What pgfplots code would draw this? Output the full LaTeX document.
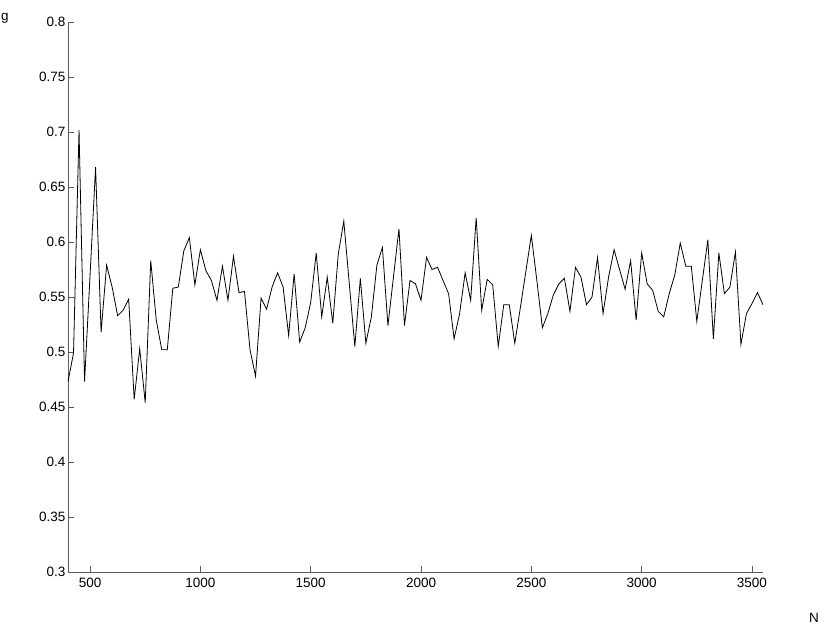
\documentclass[border=0pt]{standalone}
\usepackage{fontspec}
\setmainfont{Liberation Sans}
\usepackage{pgfplots}
\pgfplotsset{compat=1.18}
\usepackage{pgfplotstable}

\pgfplotstableread{
N g
400 0.473
425 0.499
450 0.702
475 0.473
500 0.570
525 0.668
550 0.518
575 0.579
600 0.559
625 0.533
650 0.538
675 0.548
700 0.457
725 0.503
750 0.454
775 0.583
800 0.529
825 0.502
850 0.502
875 0.558
900 0.559
925 0.592
950 0.604
975 0.561
1000 0.593
1025 0.574
1050 0.565
1075 0.547
1100 0.578
1125 0.547
1150 0.587
1175 0.554
1200 0.555
1225 0.502
1250 0.478
1275 0.549
1300 0.539
1325 0.559
1350 0.572
1375 0.559
1400 0.515
1425 0.571
1450 0.509
1475 0.522
1500 0.545
1525 0.590
1550 0.532
1575 0.568
1600 0.526
1625 0.589
1650 0.619
1675 0.562
1700 0.505
1725 0.567
1750 0.508
1775 0.532
1800 0.579
1825 0.595
1850 0.524
1875 0.568
1900 0.612
1925 0.524
1950 0.565
1975 0.562
2000 0.547
2025 0.586
2050 0.575
2075 0.577
2100 0.565
2125 0.553
2150 0.512
2175 0.535
2200 0.572
2225 0.547
2250 0.622
2275 0.538
2300 0.566
2325 0.561
2350 0.505
2375 0.543
2400 0.543
2425 0.508
2450 0.540
2475 0.573
2500 0.606
2525 0.565
2550 0.522
2575 0.535
2600 0.552
2625 0.562
2650 0.567
2675 0.537
2700 0.577
2725 0.568
2750 0.543
2775 0.550
2800 0.586
2825 0.535
2850 0.568
2875 0.593
2900 0.575
2925 0.557
2950 0.583
2975 0.529
3000 0.590
3025 0.562
3050 0.556
3075 0.537
3100 0.532
3125 0.553
3150 0.570
3175 0.599
3200 0.578
3225 0.578
3250 0.528
3275 0.565
3300 0.602
3325 0.512
3350 0.590
3375 0.553
3400 0.559
3425 0.591
3450 0.507
3475 0.535
3500 0.544
3525 0.554
3550 0.543
}\gdata

\begin{document}
\begin{tikzpicture}
\begin{axis}[
    at={(0pt,0pt)}, anchor=south west,
    scale only axis,
    width=695pt, height=550pt,
    xmin=400, xmax=3550,
    ymin=0.3, ymax=0.8,
    axis x line*=bottom, axis y line*=left,
    axis line style={black!65, line width=0.8pt},
    tick align=inside,
    major tick length=5.5pt,
    tick style={black!65, line width=0.8pt},
    xtick={500,1000,...,3500},
    ytick={0.3,0.35,...,0.8},
    ticklabel style={font=\fontsize{13.5}{15}\selectfont},
    /pgf/number format/assume math mode=true,
    /pgf/number format/set thousands separator={},
    yticklabel style={/pgf/number format/fixed, /pgf/number format/precision=2, xshift=1pt},
    xticklabel style={yshift=-2.5pt},
]
\addplot[black, line width=0.8pt] table[x=N, y=g] {\gdata};
\end{axis}
\node[anchor=base west, font=\fontsize{13.5}{15}\selectfont, inner sep=0pt] at (-67pt,551pt) {g};
\node[font=\fontsize{13.5}{15}\selectfont, inner sep=0pt] at (746pt,-45.5pt) {N};
\pgfresetboundingbox
\useasboundingbox (-68pt,-54pt) rectangle (762pt,572pt);
\end{tikzpicture}
\end{document}
